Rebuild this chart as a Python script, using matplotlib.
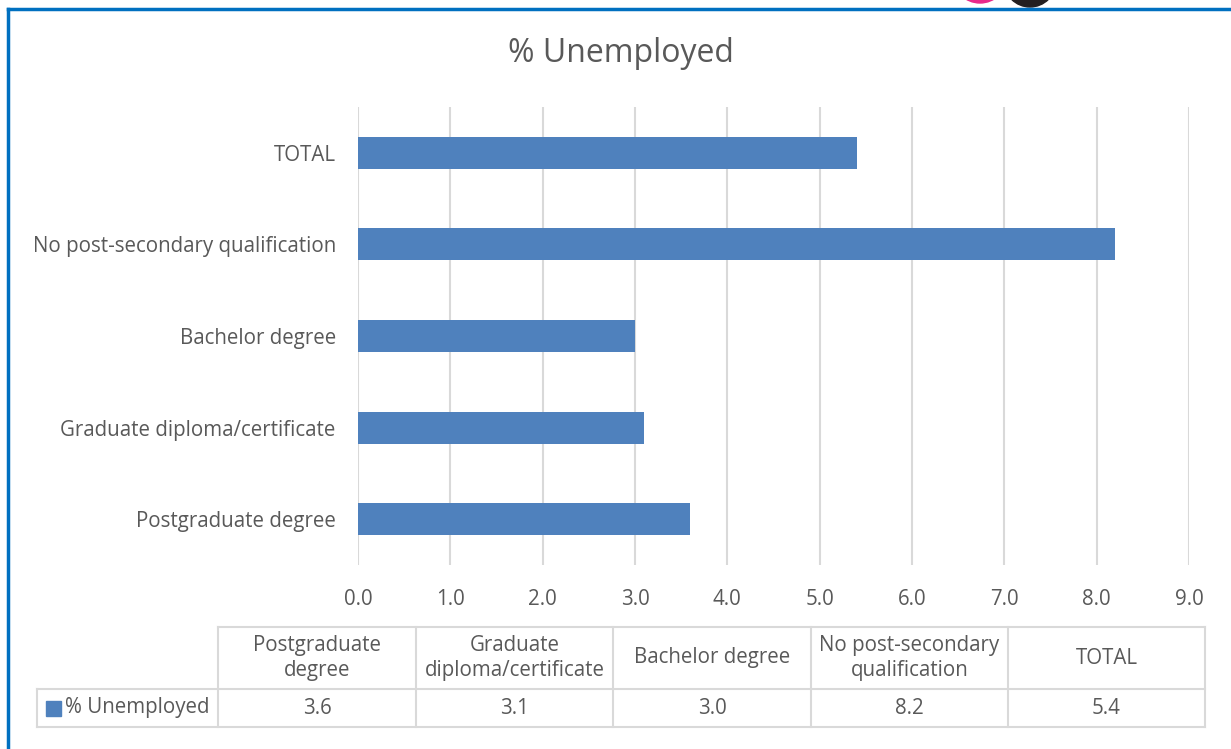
import numpy as np
import matplotlib.pyplot as plt
from matplotlib.patches import Ellipse, Rectangle
from matplotlib.lines import Line2D

plt.rcParams['font.family'] = ['Open Sans', 'DejaVu Sans']

categories = ['Postgraduate degree', 'Graduate diploma/certificate', 'Bachelor degree',
              'No post-secondary qualification', 'TOTAL']
header_labels = ['Postgraduate\ndegree', 'Graduate\ndiploma/certificate', 'Bachelor degree',
                 'No post-secondary\nqualification', 'TOTAL']
unemployed = [3.6, 3.1, 3.0, 8.2, 5.4]
series_name = '% Unemployed'

W, H = 1231, 749
bar_color = '#4F81BD'
text_color = '#595959'
grid_color = '#D9D9D9'
fs = 14.8

fig = plt.figure(figsize=(W / 100, H / 100), dpi=100)

def fx(px):
    return px / W

def fy(py):
    return 1 - py / H

ax = fig.add_axes([fx(358), fy(565), fx(1189) - fx(358), fy(107) - fy(565)])
y = np.arange(len(categories))
ax.barh(y, unemployed, height=0.35, color=bar_color, zorder=3)
ax.set_xlim(0, 9)
ax.set_ylim(-0.5, len(categories) - 0.5)
ax.set_xticks(np.arange(0, 10, 1))
ax.set_xticklabels([f'{v:.1f}' for v in np.arange(0, 10, 1)])
ax.set_yticks(y)
ax.set_yticklabels(categories)
ax.tick_params(axis='both', length=0, labelsize=fs, colors=text_color)
ax.tick_params(axis='x', pad=17)
ax.tick_params(axis='y', pad=16)
ax.grid(axis='x', color=grid_color, linewidth=1.5, zorder=0)
for s in ax.spines.values():
    s.set_visible(False)

fig.text(fx(621), fy(54), series_name, ha='center', va='center', fontsize=23, color=text_color)

# data table under the chart
col_edges = [218, 416, 613, 811, 1008, 1205]
row_top, row_mid, row_bot = 627, 689, 727
legend_left = 37

def hline(x0, x1, yy):
    fig.add_artist(Line2D([fx(x0), fx(x1)], [fy(yy), fy(yy)], color=grid_color, lw=1.5))

def vline(xx, y0, y1):
    fig.add_artist(Line2D([fx(xx), fx(xx)], [fy(y0), fy(y1)], color=grid_color, lw=1.5))

hline(col_edges[0], col_edges[-1], row_top)
hline(legend_left, col_edges[-1], row_mid)
hline(legend_left, col_edges[-1], row_bot)
for c in col_edges:
    vline(c, row_top, row_bot)
vline(legend_left, row_mid, row_bot)

for i in range(len(categories)):
    cx = (col_edges[i] + col_edges[i + 1]) / 2
    fig.text(fx(cx), fy((row_top + row_mid) / 2), header_labels[i], ha='center', va='center',
             fontsize=fs, color=text_color, linespacing=1.3)
    fig.text(fx(cx), fy((row_mid + row_bot) / 2), f'{unemployed[i]:.1f}', ha='center', va='center',
             fontsize=fs, color=text_color)

fig.add_artist(Rectangle((fx(46), fy(716)), fx(15), fy(701) - fy(716), color=bar_color))
fig.text(fx(65), fy(708), series_name, ha='left', va='center', fontsize=fs, color=text_color)

# blue frame and partial logo at the top
fig.add_artist(Line2D([fx(8), fx(W)], [fy(9), fy(9)], color='#0070C0', lw=2.5))
fig.add_artist(Line2D([fx(8), fx(8)], [fy(9), fy(H)], color='#0070C0', lw=2.5))
fig.add_artist(Ellipse((fx(980), fy(-24)), fx(54), 54 / H, color='#E8298A'))
fig.add_artist(Ellipse((fx(1030), fy(-19)), fx(52), 52 / H, color='#231F20'))

fig.savefig('out.png', dpi=100)
